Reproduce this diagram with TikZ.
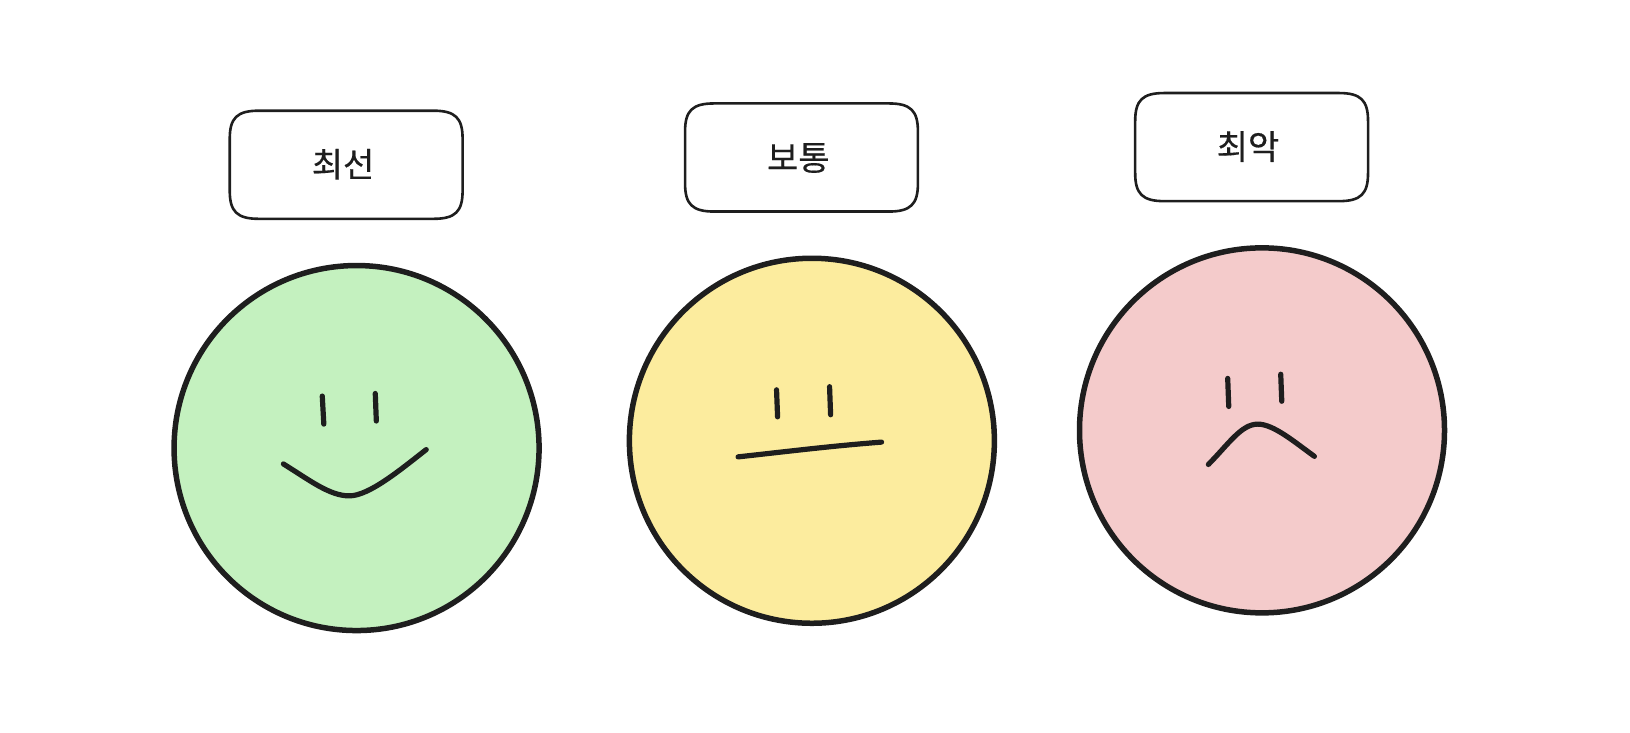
\documentclass[tikz,border=0pt]{standalone}
\usepackage{fontspec}
\newfontfamily\krfont[FakeBold=0.35]{Noto Sans CJK KR}
\definecolor{ink}{HTML}{1E1E1E}
\definecolor{happy}{HTML}{C4F1BF}
\definecolor{neutral}{HTML}{FCEC9E}
\definecolor{sad}{HTML}{F4CBCB}
\tikzset{
  labelbox/.style={minimum width=233pt,minimum height=107pt,inner sep=0pt},
  boxline/.style={draw=ink,line width=2.6pt,line join=round},
  labeltext/.style={text=ink,inner sep=0pt,font=\krfont\fontsize{34}{40}\selectfont},
  facedisc/.style={circle,draw=ink,line width=5.5pt,minimum size=365pt,inner sep=0pt},
  feature/.style={draw=ink,line width=5.2pt,line cap=round,line join=round}
}
\newcommand{\softbox}[1]{%
  \draw[boxline,shift={(#1.center)}]
    (-112,-25) .. controls (-112,-45) and (-105,-52) .. (-84,-52)
    -- (84,-52) .. controls (105,-52) and (112,-45) .. (112,-25)
    -- (112,25) .. controls (112,45) and (105,52) .. (84,52)
    -- (-84,52) .. controls (-105,52) and (-112,45) .. (-112,25)
    -- cycle;}
\begin{document}
\begin{tikzpicture}[x=1.0395pt,y=-1.0395pt]
\useasboundingbox (0,0) rectangle (1568,704.2);
\node[labelbox] (b1) at (333,158.5) {};
\node[labelbox] (b2) at (771,151.5) {};
\node[labelbox] (b3) at (1204,141.5) {};
\softbox{b1}\softbox{b2}\softbox{b3}
\node[labeltext] (t1) at (330,158) {최선};
\node[labeltext] (t2) at (768,152) {보통};
\node[labeltext] (t3) at (1200.5,141) {최악};
\node[facedisc,fill=happy] (f1) at (343,431) {};
\node[facedisc,fill=neutral] (f2) at (781,424) {};
\node[facedisc,fill=sad] (f3) at (1214,414) {};
% happy
\draw[feature] (310,381) -- (311.5,408);
\draw[feature] (361,378.5) -- (362,405);
\draw[feature] (272.6,446.3) .. controls (298,462) and (317,477) .. (336,477) .. controls (355,477) and (385,452) .. (410,432.5);
% neutral
\draw[feature] (747,375) -- (748,401);
\draw[feature] (798,372) -- (799,399);
\draw[feature] (710,439.5) .. controls (760,434) and (800,429) .. (848,425.3);
% sad
\draw[feature] (1181,364) -- (1182,391);
\draw[feature] (1232,360) -- (1233,386);
\draw[feature] (1162.4,446.8) .. controls (1182,427) and (1194,408) .. (1210,408) .. controls (1225,408) and (1245,425) .. (1264.4,439);
\end{tikzpicture}
\end{document}
